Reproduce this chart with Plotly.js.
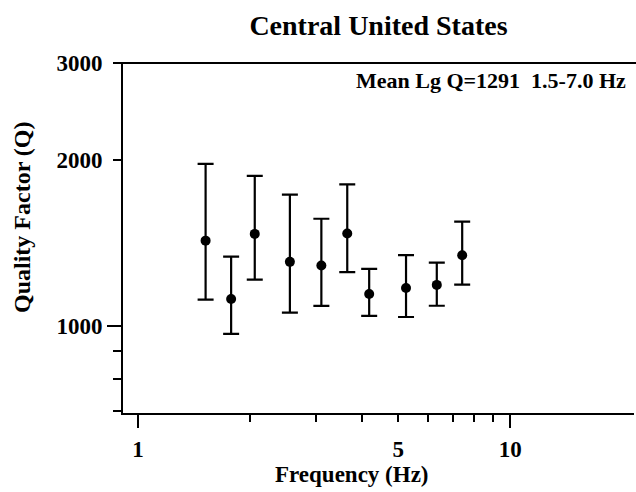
<!DOCTYPE html>
<html>
<head>
<meta charset="utf-8">
<script src="https://cdn.plot.ly/plotly-3.0.1.min.js"></script>
<style>html,body{margin:0;padding:0;background:#fff;}#chart{width:636px;height:492px;}</style>
</head>
<body>
<div id="chart"></div>
<script>
// Data
const frequency = [1.52, 1.78, 2.06, 2.56, 3.11, 3.65, 4.18, 5.25, 6.35, 7.43];
const qValue    = [1428, 1119, 1469, 1307, 1287, 1471, 1143, 1172, 1187, 1344];
const qUpper    = [1968, 1336, 1872, 1731, 1565, 1807, 1269, 1344, 1303, 1546];
const qLower    = [1116,  967, 1213, 1057, 1087, 1252, 1043, 1038, 1088, 1188];
const xTickVals = [1, 5, 10];
const xTickText = ['1', '5', '10'];
const xMinorVals = [2, 3, 4, 6, 7, 8, 9];
const yTickVals = [1000, 2000, 3000];
const yTickText = ['1000', '2000', '3000'];
const yMinorVals = [700, 800, 900];

const plus = qUpper.map((u, i) => u - qValue[i]);
const minus = qValue.map((v, i) => v - qLower[i]);

const FONT = 'Liberation Serif, Times New Roman, serif';
const xr = [Math.log10(0.912), Math.log10(21.5)];
const yr = [Math.log10(695), Math.log10(3000)];

const trace = {
  x: frequency, y: qValue, type: 'scatter', mode: 'markers',
  marker: {color: '#000', size: 10},
  error_y: {type: 'data', symmetric: false, array: plus, arrayminus: minus,
            color: '#000', thickness: 2.2, width: 8},
  showlegend: false, hoverinfo: 'skip'
};

const layout = {
  width: 636, height: 492,
  margin: {l: 123, r: 2, t: 63, b: 79},
  paper_bgcolor: '#fff', plot_bgcolor: '#fff',
  font: {family: FONT, color: '#000', weight: 'bold'},
  title: {text: '<b>Central United States</b>', x: 0.5, xref: 'paper',
          y: 1 - 25/492, yref: 'container', yanchor: 'middle',
          font: {family: FONT, size: 28, color: '#000'}},
  xaxis: {type: 'log', range: xr, showgrid: false, zeroline: false,
          showline: true, linecolor: '#000', linewidth: 2,
          ticks: 'outside', ticklen: 7, tickwidth: 2, tickcolor: '#000',
          tickmode: 'array', tickvals: xTickVals, ticktext: xTickText,
          ticklabelstandoff: 7,
          tickfont: {family: FONT, size: 23, color: '#000', weight: 'bold'},
          minor: {tickmode: 'array', tickvals: xMinorVals, ticks: 'outside', ticklen: 7, tickwidth: 2, tickcolor: '#000', showgrid: false}},
  xaxis2: {type: 'log', range: xr, overlaying: 'x', showgrid: false, zeroline: false,
           showline: false, ticks: 'outside', ticklen: 14, tickwidth: 2, tickcolor: '#000',
           tickmode: 'array', tickvals: [1, 10], showticklabels: false},
  yaxis: {type: 'log', range: yr, showgrid: false, zeroline: false,
          showline: true, linecolor: '#000', linewidth: 2,
          ticks: 'outside', ticklen: 8, tickwidth: 2, tickcolor: '#000',
          tickmode: 'array', tickvals: yTickVals, ticktext: yTickText,
          ticklabelstandoff: 6,
          tickfont: {family: FONT, size: 23, color: '#000', weight: 'bold'},
          minor: {tickmode: 'array', tickvals: yMinorVals, ticks: 'outside', ticklen: 8, tickwidth: 2, tickcolor: '#000', showgrid: false}},
  yaxis2: {type: 'log', range: yr, overlaying: 'y', showgrid: false, zeroline: false,
           showline: false, ticks: 'outside', ticklen: 15, tickwidth: 2, tickcolor: '#000',
           tickmode: 'array', tickvals: [1000], showticklabels: false},
  shapes: [
    {type: 'line', xref: 'paper', yref: 'paper', x0: -0.016, x1: 1.01, y0: 1, y1: 1,
     line: {color: '#000', width: 2}}
  ],
  annotations: [
    {text: '<b>Quality Factor (Q)</b>', xref: 'paper', yref: 'paper',
     x: (22 - 123) / 511, y: (413 - 217) / 350, textangle: -90,
     showarrow: false, xanchor: 'center', yanchor: 'middle',
     font: {family: FONT, size: 24, color: '#000'}},
    {text: '<b>Frequency (Hz)</b>', xref: 'paper', yref: 'paper',
     x: (352 - 123) / 511, y: (413 - 475) / 350,
     showarrow: false, xanchor: 'center', yanchor: 'middle',
     font: {family: FONT, size: 23, color: '#000'}},
    {text: '<b>Mean Lg Q=1291&nbsp;&nbsp;1.5-7.0 Hz</b>', xref: 'paper', yref: 'paper',
     x: (628 - 123) / 511, y: (413 - 80) / 350,
     showarrow: false, xanchor: 'right', yanchor: 'middle',
     font: {family: FONT, size: 22, color: '#000'}}
  ]
};

const dummy = {x: [1], y: [1000], xaxis: 'x2', yaxis: 'y2', type: 'scatter', mode: 'markers',
               marker: {opacity: 0}, showlegend: false, hoverinfo: 'skip'};

Plotly.newPlot('chart', [trace, dummy], layout, {staticPlot: true, displayModeBar: false});
</script>
</body>
</html>
